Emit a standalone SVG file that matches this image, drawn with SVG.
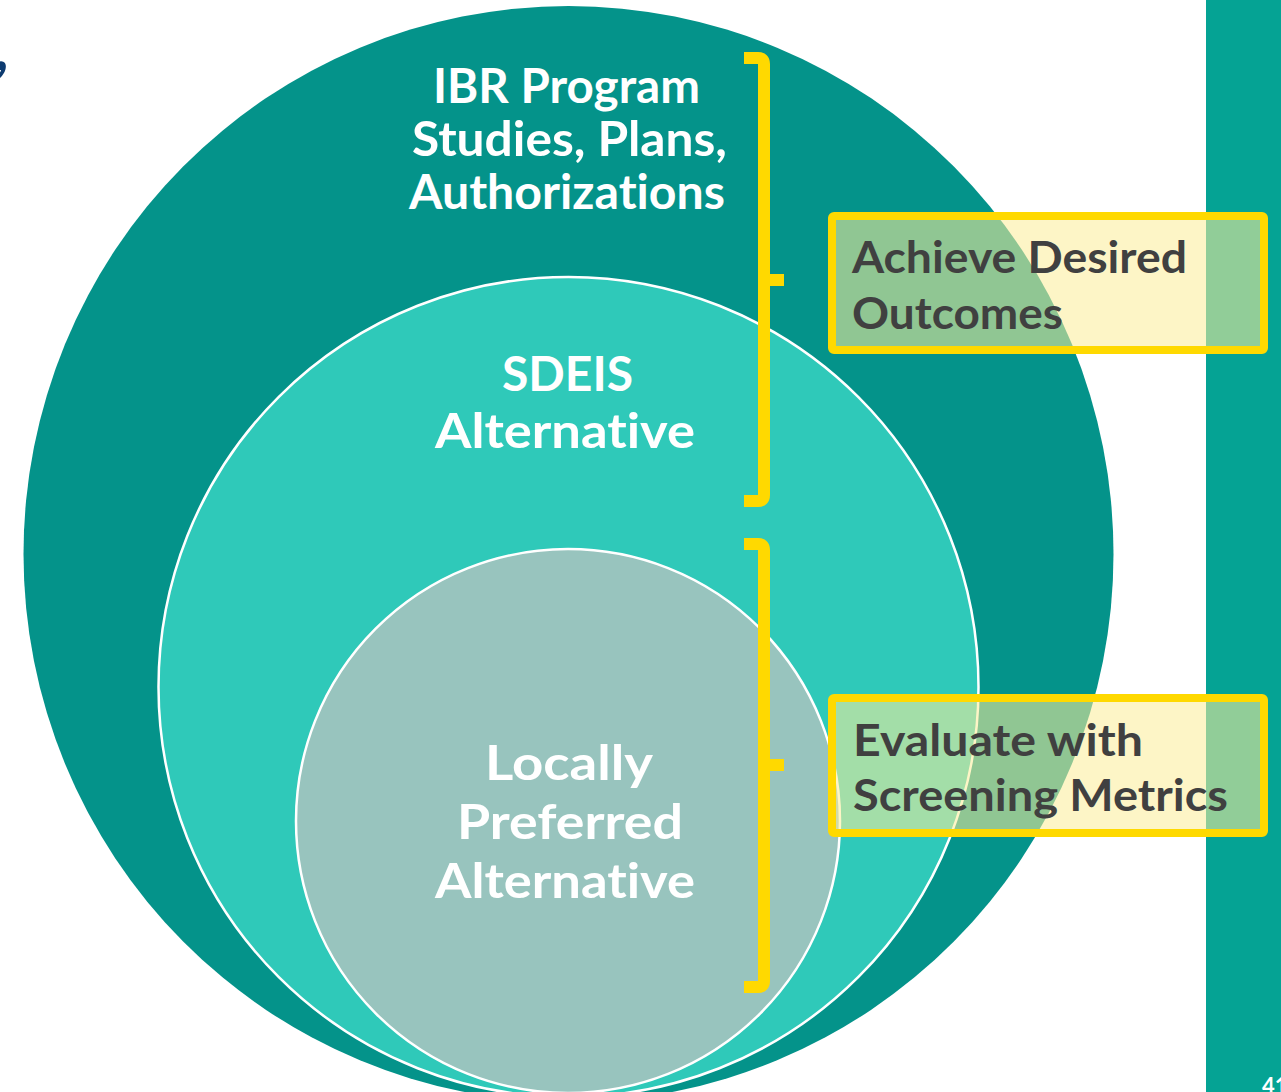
<svg xmlns="http://www.w3.org/2000/svg" width="1281" height="1092" viewBox="0 0 1281 1092">
<style>
text{font-variant-ligatures:none;font-feature-settings:"liga" 0,"clig" 0}
.lbl{font-family:Lato,"Noto Sans","Liberation Sans",sans-serif;font-weight:700;fill:#ffffff;font-size:47px}
.box{fill:#fbed9b;fill-opacity:0.57;stroke:#ffd900;stroke-width:8}
.boxt{font-family:Lato,"Noto Sans","Liberation Sans",sans-serif;font-weight:700;fill:#404040;font-size:44px}
.br{fill:none;stroke:#ffd900;stroke-width:12;stroke-linejoin:round}
</style>
<rect width="1281" height="1092" fill="#ffffff"/>
<text x="-6" y="70" font-family="Lato,'Liberation Sans',sans-serif" font-weight="700" font-size="62" fill="#0d3b70">,</text>
<rect id="sidebar" x="1206" y="0" width="75" height="1092" fill="#05a394"/>
<text x="1262" y="1094" font-family="Lato,'Liberation Sans',sans-serif" font-weight="700" font-size="22" fill="#ffffff">41</text>
<g id="outer">
<ellipse cx="568.5" cy="554" rx="545" ry="548" fill="#04938a"/>
<text class="lbl" x="433" y="103" textLength="267" lengthAdjust="spacingAndGlyphs">IBR Program</text>
<text class="lbl" x="412" y="156" textLength="315" lengthAdjust="spacingAndGlyphs">Studies, Plans,</text>
<text class="lbl" x="409" y="209" textLength="316" lengthAdjust="spacingAndGlyphs">Authorizations</text>
</g>
<g id="middle">
<circle cx="568.5" cy="687" r="410" fill="#2fc9b9" stroke="#ffffff" stroke-width="2.5"/>
<text class="lbl" x="502" y="391" textLength="131" lengthAdjust="spacingAndGlyphs">SDEIS</text>
<text class="lbl" x="435" y="448" textLength="260" lengthAdjust="spacingAndGlyphs">Alternative</text>
</g>
<g id="inner">
<circle cx="568" cy="821" r="272" fill="#98c4be" stroke="#ffffff" stroke-width="2.5"/>
<text class="lbl" x="485" y="780" textLength="168" lengthAdjust="spacingAndGlyphs">Locally</text>
<text class="lbl" x="457" y="839" textLength="226" lengthAdjust="spacingAndGlyphs">Preferred</text>
<text class="lbl" x="435" y="898" textLength="260" lengthAdjust="spacingAndGlyphs">Alternative</text>
</g>
<g id="connectors">
<path class="br" d="M744,58 H758 Q764,58 764,64 V495 Q764,501 758,501 H744"/>
<path class="br" d="M764,280 H784"/>
<path class="br" d="M744,544 H758 Q764,544 764,550 V981 Q764,987 758,987 H744"/>
<path class="br" d="M764,765 H784"/>
</g>
<g id="box-outcomes">
<rect class="box" x="832" y="216" width="432" height="134" rx="2"/>
<text class="boxt" x="852" y="273" textLength="335" lengthAdjust="spacingAndGlyphs">Achieve Desired</text>
<text class="boxt" x="852" y="329" textLength="211" lengthAdjust="spacingAndGlyphs">Outcomes</text>
</g>
<g id="box-metrics">
<rect class="box" x="832" y="698" width="432" height="135" rx="2"/>
<text class="boxt" x="853" y="756" textLength="290" lengthAdjust="spacingAndGlyphs">Evaluate with</text>
<text class="boxt" x="853" y="811" textLength="375" lengthAdjust="spacingAndGlyphs">Screening Metrics</text>
</g>
</svg>
